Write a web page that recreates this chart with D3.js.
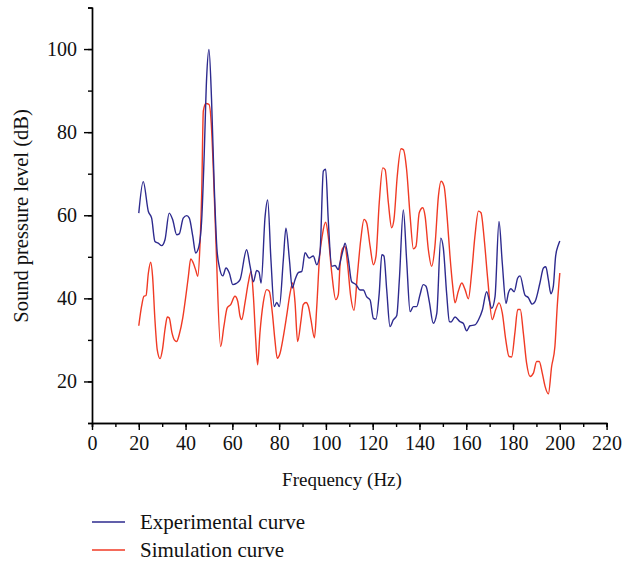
<!DOCTYPE html>
<html>
<head>
<meta charset="utf-8">
<title>Sound pressure level vs frequency</title>
<script src="https://cdn.jsdelivr.net/npm/d3@7/dist/d3.min.js"></script>
<style>
	body { margin: 0; background: #fff; }
	svg text { font-family: "Liberation Serif", "Times New Roman", serif; fill: #111; }
	.axis path, .axis line { stroke: #000; stroke-width: 1.4px; }
</style>
</head>
<body>
<svg id="chart" width="622" height="567"></svg>
<script>
// experimental curve (blue)
var expFreq = [20, 21.9, 24.1, 25.5, 26.9, 28.3, 29.8, 31.2, 33.0, 34.5, 36.2, 37.3, 39.0, 40.5, 41.6, 43.1, 44.3, 45.7, 46.9, 47.9,
	49.0, 50.0, 51.1, 52.2, 53.4, 54.4, 55.9, 57.3, 58.7, 60.2, 61.7, 63.3, 66.1, 67.6, 69.0, 70.4, 71.4, 72.3, 74.0, 75.1,
	76.5, 77.9, 79.0, 80.1, 81.8, 82.9, 84.4, 85.6, 86.8, 88.2, 89.7, 91.1, 92.8, 94.6, 96.1, 97.5, 98.9, 99.9, 101.0, 102.5,
	103.9, 105.3, 106.0, 107.5, 108.2, 109.6, 111.0, 112.9, 114.6, 116.0, 117.4, 118.9, 120.3, 121.4, 122.8, 123.9, 124.8, 126.0, 127.4, 128.8,
	130.3, 131.4, 133.1, 134.5, 136.0, 137.4, 138.8, 140.2, 141.6, 142.8, 144.2, 145.9, 147.4, 149.1, 150.2, 151.6, 152.8, 153.5, 155.2, 157.3,
	158.7, 160.2, 161.6, 163.7, 165.2, 166.9, 168.7, 170.9, 172.3, 174.0, 175.4, 177.0, 178.0, 179.1, 180.5, 182.0, 183.0, 185.1, 186.5, 188.2,
	189.4, 191.5, 193.0, 194.0, 195.1, 196.2, 197.2, 198.2, 199.4, 200];
var expLevel = [60.5, 68.1, 60.9, 59.3, 53.7, 53.3, 52.7, 54.1, 60.5, 58.9, 55.3, 55.5, 59.3, 59.9, 59.3, 54.9, 50.9, 52.5, 58.9, 73.4,
	93, 99.9, 88, 68, 52, 47.7, 45.4, 47.3, 46.1, 43.3, 43.6, 44.5, 51.7, 47.7, 44, 46.7, 46.3, 43.7, 59.7, 63.7,
	49.3, 38, 39, 38, 49.3, 56.9, 49.3, 42.5, 44.5, 46.2, 46.5, 51, 49.7, 50.2, 48.1, 51.3, 70.6, 71.1, 58.9, 47.7,
	47.9, 46.9, 48.5, 52, 53.3, 49.3, 44, 43.3, 42, 42, 40.4, 39.6, 35.2, 35, 41.3, 50.5, 50.2, 42, 33.2, 34.8,
	35.9, 44.5, 61.3, 49.3, 36.8, 38, 38, 40.8, 43.3, 42.9, 39.2, 34, 36.4, 54.5, 52.1, 41.3, 34.4, 34.3, 35.5, 34.4,
	34, 32.2, 33.4, 33.6, 34.8, 37.2, 41.6, 37.6, 40.4, 58.5, 48.5, 38.8, 41.3, 42.3, 41.6, 44.9, 45.4, 40.8, 40.2, 38.6,
	39.2, 43.7, 47.3, 47.6, 44.5, 41.1, 42.8, 50.1, 52.9, 53.8];

// simulation curve (red)
var simFreq = [20, 21.2, 22.2, 23.1, 24.1, 25.1, 25.9, 26.9, 27.9, 29.1, 30.1, 31.2, 32.2, 33.0, 34.2, 35.2, 36.2, 37.3, 38.8, 40.2,
	41.2, 42.2, 43.3, 44.5, 45.2, 46.2, 46.9, 47.6, 48.7, 50.0, 51.0, 51.8, 53.0, 55.0, 56.4, 57.8, 59.3, 61.1, 62.3, 63.3,
	64.0, 65.4, 66.8, 68.0, 69.0, 70.0, 70.8, 71.8, 73.2, 74.7, 75.8, 77.1, 78.2, 79.2, 80.4, 81.8, 83.2, 84.7, 85.8, 86.8,
	87.9, 89.4, 90.3, 91.5, 92.5, 93.6, 95.1, 96.1, 97.2, 98.5, 99.9, 101.0, 102.5, 104.2, 105.3, 106.0, 107.2, 108.2, 109.2, 110.6,
	112.0, 113.4, 114.9, 116.3, 117.4, 118.9, 120.3, 121.4, 122.8, 124.3, 125.3, 126.7, 128.1, 129.1, 130.5, 132.1, 133.1, 134.5, 136.0, 137.4,
	138.5, 139.9, 141.4, 142.4, 143.8, 145.2, 146.6, 148.1, 149.2, 150.5, 151.9, 153.0, 154.2, 155.2, 156.6, 158.1, 159.5, 160.9, 162.3, 163.7,
	165.2, 166.3, 167.7, 169.2, 171.1, 172.6, 174.0, 175.4, 176.9, 178.3, 179.4, 180.8, 182.0, 183.1, 184.4, 185.8, 187.3, 188.7, 190.1, 191.2,
	192.5, 193.7, 195.1, 196.5, 197.9, 198.9, 200];
var simLevel = [33.4, 38.1, 40.5, 40.7, 46.1, 48.7, 45.3, 34.9, 27.6, 25.5, 27.6, 32.5, 35.5, 35.3, 31.7, 30.0, 29.6, 31.3, 35.3, 40.9,
	45.3, 49.5, 48.5, 46.5, 45.3, 53.3, 65.4, 85.1, 86.9, 86.7, 82, 72, 53.3, 28.4, 33.3, 37.7, 38.5, 40.5, 39.3, 35.7,
	34.9, 38.9, 43.7, 46.5, 40.5, 30.0, 24.0, 31.7, 38.9, 42.1, 41.7, 36.5, 30.0, 25.6, 26.8, 30.8, 35.7, 41.3, 43.7, 39,
	29.6, 34.9, 38.5, 39.0, 38.1, 34.9, 30.5, 38.1, 49.3, 55.3, 58.3, 54.9, 46.1, 39.7, 40.9, 47.7, 52.1, 52.5, 48.5, 40.5,
	37.1, 45.3, 54.1, 59.0, 58.2, 52.5, 48.1, 50.1, 63.0, 71.4, 71.0, 63.0, 57.0, 59.0, 69.4, 76.0, 75.8, 71.0, 59.8, 51.9,
	52.5, 60.6, 61.8, 59.8, 51.7, 47.7, 52.5, 64.6, 68.2, 67.0, 59.0, 50.5, 43, 38.9, 41.7, 43.7, 42.1, 39.9, 46.1, 54.9,
	61.0, 60.6, 54.1, 44.5, 34.9, 37.3, 38.9, 36.5, 30.0, 26.0, 25.9, 31.7, 37.3, 37.3, 31.7, 24.4, 21.2, 22.0, 24.8, 24.8,
	22.0, 18.8, 17.0, 23.6, 28.4, 38.1, 46.1];

var xTicks = [0, 20, 40, 60, 80, 100, 120, 140, 160, 180, 200, 220];
var yTicks = [20, 40, 60, 80, 100];
var seriesNames = ['Experimental curve', 'Simulation curve'];
var seriesColors = ['#2d2a8e', '#f03a24'];

var svg = d3.select('#chart');
var plotLeft = 92, plotRight = 606.6, plotTop = 7.5, plotBottom = 423;

var x = d3.scaleLinear().domain([0, 220]).range([plotLeft, plotRight]);
var y = d3.scaleLinear().domain([10, 110]).range([plotBottom, plotTop]);

// minor ticks first, then major axis with labels
svg.append('g')
	.attr('class', 'axis')
	.attr('transform', 'translate(0,' + plotBottom + ')')
	.call(d3.axisBottom(x).tickValues(d3.range(0, 221, 10)).tickSize(4).tickFormat(''));
svg.append('g')
	.attr('class', 'axis')
	.attr('transform', 'translate(0,' + plotBottom + ')')
	.call(d3.axisBottom(x).tickValues(xTicks).tickSize(7).tickSizeOuter(0).tickPadding(6))
	.call(g => g.selectAll('text').attr('font-size', 20).attr('font-family', '"Liberation Serif", serif').attr('fill', '#111'));

svg.append('g')
	.attr('class', 'axis')
	.attr('transform', 'translate(' + plotLeft + ',0)')
	.call(d3.axisLeft(y).tickValues(d3.range(10, 111, 10)).tickSize(4).tickFormat(''));
svg.append('g')
	.attr('class', 'axis')
	.attr('transform', 'translate(' + plotLeft + ',0)')
	.call(d3.axisLeft(y).tickValues(yTicks).tickSize(8).tickSizeOuter(0).tickPadding(7))
	.call(g => g.selectAll('text').attr('font-size', 20).attr('font-family', '"Liberation Serif", serif').attr('fill', '#111'));

// axis titles
svg.append('text')
	.attr('x', 342)
	.attr('y', 486)
	.attr('text-anchor', 'middle')
	.attr('font-size', 19)
	.text('Frequency (Hz)');

svg.append('text')
	.attr('transform', 'translate(28,216) rotate(-90)')
	.attr('text-anchor', 'middle')
	.attr('font-size', 20.5)
	.text('Sound pressure level (dB)');

// curves
var line = d3.line()
	.x(d => x(d[0]))
	.y(d => y(d[1]))
	.curve(d3.curveMonotoneX);

var expData = d3.zip(expFreq, expLevel),
	simData = d3.zip(simFreq, simLevel);

[simData, expData].forEach(function (data, i) {
	svg.append('path')
		.datum(data)
		.attr('fill', 'none')
		.attr('stroke', seriesColors[1 - i])
		.attr('stroke-width', 1.4)
		.attr('stroke-linejoin', 'round')
		.attr('d', line);
});

// legend
var legend = svg.append('g').selectAll('g')
	.data(seriesNames)
	.enter()
	.append('g')
	.attr('transform', (d, i) => 'translate(0,' + (522 + i * 28) + ')');

legend.append('line')
	.attr('x1', 92).attr('x2', 125)
	.attr('stroke', (d, i) => seriesColors[i])
	.attr('stroke-width', 1.3);

legend.append('text')
	.attr('x', 140)
	.attr('dy', '0.35em')
	.attr('font-size', 21)
	.text(d => d);
</script>
</body>
</html>
